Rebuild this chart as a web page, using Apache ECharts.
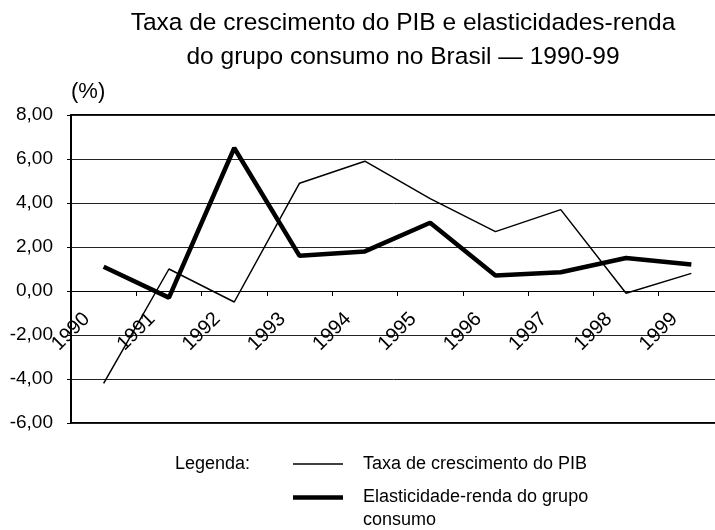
<!DOCTYPE html>
<html lang="pt">
<head>
<meta charset="UTF-8">
<title>Taxa de crescimento do PIB e elasticidades-renda</title>
<script src="https://cdn.jsdelivr.net/npm/echarts@6/dist/echarts.min.js"></script>
</head>
<body style="margin:0;background:#fff;">
<!-- área do gráfico -->
<div id="main" style="width:715px;height:530px;"></div>
<script>
var anos = ['1990', '1991', '1992', '1993', '1994', '1995', '1996', '1997', '1998', '1999'];
var taxaPIB = [-4.2, 1.0, -0.5, 4.9, 5.9, 4.2, 2.7, 3.7, -0.1, 0.8];
var elasticidade = [1.1, -0.3, 6.5, 1.6, 1.8, 3.1, 0.7, 0.85, 1.5, 1.2];
var yMin = -6, yMax = 8, yPasso = 2;

var nomePIB = 'Taxa de crescimento do PIB';
var nomeElast = 'Elasticidade-renda do grupo consumo';
var fonte = '"Liberation Sans", Arial, sans-serif';

var myChart = echarts.init(document.getElementById('main'));

var option = {
    backgroundColor: '#fff',
    animation: false,
    textStyle: { fontFamily: fonte, color: '#000' },
    title: {
        text: 'Taxa de crescimento do PIB e elasticidades-renda\ndo grupo consumo no Brasil \u2014 1990-99',
        left: 403,
        top: 6,
        textAlign: 'center',
        padding: 0,
        textStyle: { fontFamily: fonte, fontSize: 24.5, fontWeight: 'normal', color: '#000', lineHeight: 34 }
    },
    // legenda em duas peças para reproduzir a quebra de linha
    legend: [{
        data: [{ name: nomePIB, icon: 'path://M0,0H50V1.5H0Z' }],
        orient: 'vertical',
        left: 293, top: 455,
        padding: 0,
        itemWidth: 50, itemHeight: 12,
        selectedMode: false,
        itemStyle: { color: '#000' },
        textStyle: { fontFamily: fonte, fontSize: 18, color: '#000', padding: [0, 0, 0, 15] }
    }, {
        data: [{ name: nomeElast, icon: 'path://M0,0H50V4.5H0Z' }],
        orient: 'vertical',
        left: 293, top: 463,
        padding: 0,
        itemWidth: 50, itemHeight: 12,
        selectedMode: false,
        itemStyle: { color: '#000' },
        // linha vazia no topo para alinhar o traço com a primeira linha do texto
        formatter: function () { return '\nElasticidade-renda do grupo\nconsumo'; },
        textStyle: { fontFamily: fonte, fontSize: 18, color: '#000', lineHeight: 23, padding: [0, 0, 0, 15] }
    }],
    graphic: [{
        type: 'text',
        left: 175, top: 455,
        style: { text: 'Legenda:', fontFamily: fonte, fontSize: 18, fill: '#000' }
    }],
    grid: {
        left: 71, top: 115, width: 653, height: 308,
        show: true, borderColor: '#000', borderWidth: 2,
        containLabel: false,
        outerBoundsMode: 'none'
    },
    xAxis: {
        type: 'category',
        data: anos,
        boundaryGap: true,
        position: 'bottom',
        offset: -132,
        axisLine: { onZero: false, lineStyle: { color: '#000', width: 1.2 } },
        axisTick: { show: true, length: 5, lineStyle: { color: '#000' } },
        axisLabel: {
            rotate: 45, margin: 8, fontSize: 20, color: '#000', fontFamily: fonte,
            padding: [0, 24, 0, 0]
        },
        splitLine: { show: false }
    },
    yAxis: {
        type: 'value',
        min: yMin, max: yMax, interval: yPasso,
        name: '(%)',
        nameLocation: 'end',
        nameGap: 12,
        nameTextStyle: { fontFamily: fonte, fontSize: 22, color: '#000', align: 'left' },
        axisLine: { show: true, lineStyle: { color: '#000', width: 2 } },
        axisTick: { show: true, length: 4, lineStyle: { color: '#000' } },
        axisLabel: {
            margin: 18, fontSize: 19, color: '#000', fontFamily: fonte,
            formatter: function (v) { return v.toFixed(2).replace('.', ','); }
        },
        splitLine: { show: true, lineStyle: { color: '#222', width: 1 } }
    },
    series: [{
        name: nomePIB,
        type: 'line',
        data: taxaPIB,
        symbol: 'none',
        lineStyle: { width: 1.5, color: '#000' },
        itemStyle: { color: '#000' }
    }, {
        name: nomeElast,
        type: 'line',
        data: elasticidade,
        symbol: 'none',
        lineStyle: { width: 4.5, color: '#000' },
        itemStyle: { color: '#000' }
    }]
};

myChart.setOption(option);
</script>
</body>
</html>
